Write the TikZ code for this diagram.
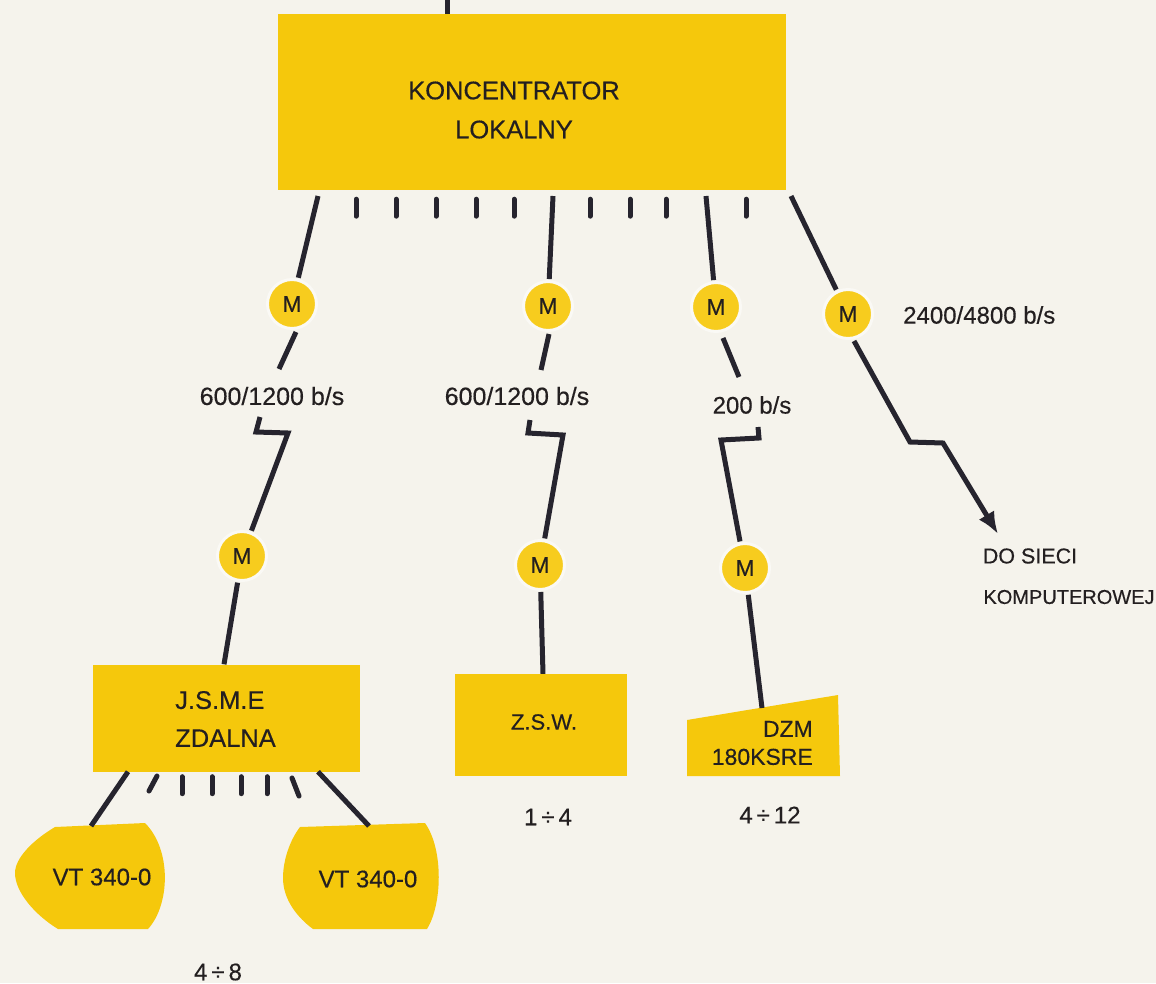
\documentclass[tikz,border=0pt]{standalone}
\usepackage{fontspec}
\setmainfont{Liberation Sans}[FakeBold=0.4,AutoFakeBold=0.4]
\newfontfamily\heavy{Liberation Sans}[FakeBold=0.4]
\usetikzlibrary{calc,arrows.meta}
\definecolor{paper}{RGB}{245,243,236}
\definecolor{gold}{RGB}{245,200,12}
\definecolor{goldm}{RGB}{247,204,30}
\definecolor{ink}{RGB}{38,36,46}
\definecolor{txt}{RGB}{35,31,32}
\begin{document}
\begin{tikzpicture}[x=1pt,y=-1pt,
  wire/.style={draw=ink,line width=5pt,line join=miter},
  stub/.style={draw=ink,line width=5pt,line cap=round},
  ybox/.style={fill=gold,inner sep=0pt},
  modem/.style={circle,fill=goldm,draw=white!50!paper,line width=3pt,
    minimum size=49pt,inner sep=0pt,text=txt,font=\heavy\fontsize{23}{23}\selectfont},
  lbl/.style={text=txt,inner sep=0pt,font=\heavy\fontsize{24}{24}\selectfont},
]
% sheet
\fill[paper] (0,0) rectangle (1156,983);
\useasboundingbox (0,0) rectangle (1156,983);

% ---- local concentrator ----
\node[ybox,minimum width=508pt,minimum height=176pt] (kon) at (532,102) {};
\node[lbl,align=center,font=\heavy\fontsize{25.5}{39}\selectfont] (kontxt) at (514,110)
  {KONCENTRATOR\\LOKALNY};
\coordinate (feed) at (447,-2);
\draw[wire] (feed) -- (feed |- kon.north);

% unused ports
\foreach \x in {356,396,436,476,514,590,630,666,746}
  \draw[stub] ($(kon.south -| \x,0)+(0,9)$) -- ++(0,17);

% ---- modems ----
\node[modem] (m1) at (292,304) {M};
\node[modem] (m2) at (548,306) {M};
\node[modem] (m3) at (716,307) {M};
\node[modem] (m4) at (848,314) {M};
\node[modem] (m5) at (242,556) {M};
\node[modem] (m6) at (540,565) {M};
\node[modem] (m7) at (745,568) {M};

% concentrator -> first-level modems
\coordinate (k1) at (318,196);
\coordinate (k2) at (553,196);
\coordinate (k3) at (706,196);
\coordinate (k4) at (791,196);
\draw[wire,shorten >=1pt] (k1) -- (m1);
\draw[wire,shorten >=1pt] (k2) -- (m2);
\draw[wire,shorten >=1pt] (k3) -- (m3);
\draw[wire,shorten >=1pt] (k4) -- (m4);

% line rates
\node[lbl,font=\heavy\fontsize{25}{25}\selectfont] (r1) at (272,396) {600/1200 b/s};
\node[lbl,font=\heavy\fontsize{25}{25}\selectfont] (r2) at (517,396) {600/1200 b/s};
\node[lbl] (r3) at (752,405) {200 b/s};
\node[lbl,anchor=west] (r4) at (903,315) {2400/4800 b/s};

% telephone lines, first branch
\coordinate (u1a) at (296,332);
\coordinate (u1b) at (279,369);
\draw[wire] (u1a) -- (u1b);
\coordinate (z1a) at (260,417);
\coordinate (z1b) at (256,432);
\coordinate (z1c) at (288,433);
\draw[wire,shorten >=1pt] (z1a) -- (z1b) -- (z1c) -- (m5);

% second branch
\coordinate (u2a) at (549,334);
\coordinate (u2b) at (541,370);
\draw[wire] (u2a) -- (u2b);
\coordinate (z2a) at (530,420);
\coordinate (z2b) at (528,433);
\coordinate (z2c) at (563,435);
\draw[wire,shorten >=1pt] (z2a) -- (z2b) -- (z2c) -- (m6);

% third branch
\coordinate (u3a) at (723,338);
\coordinate (u3b) at (739,377);
\draw[wire] (u3a) -- (u3b);
\coordinate (z3a) at (758,427);
\coordinate (z3b) at (759,438);
\coordinate (z3c) at (721,440);
\draw[wire,shorten >=1pt] (z3a) -- (z3b) -- (z3c) -- (m7);

% link to the computer network
\coordinate (s4) at (854,341);
\coordinate (w4a) at (910,442);
\coordinate (w4b) at (943,443);
\coordinate (net) at (998,534);
\draw[wire,-{Latex[length=22pt,width=18pt]}] (s4) -- (w4a) -- (w4b) -- (net);
\node[lbl,font=\heavy\fontsize{21.5}{21.5}\selectfont] (net1) at (1030,556) {DO SIECI};
\node[lbl,font=\heavy\fontsize{20}{20}\selectfont] (net2) at (1069,597) {KOMPUTEROWEJ};

% ---- remote multiplexer ----
\node[ybox,minimum width=267pt,minimum height=107pt] (jsme) at (226,718) {};
\node[lbl,align=left,anchor=west,font=\heavy\fontsize{25.5}{38}\selectfont] (jsmetxt)
  at (175,719) {J.S.M.E\\ZDALNA};
\draw[wire,shorten <=1pt] (m5) -- (jsme.north -| 224,0);

% terminals
\fill[gold] (55,827) .. controls (33,840) and (15,858) .. (15,873)
  .. controls (15,892) and (35,915) .. (58,929) -- (148,929)
  .. controls (170,905) and (172,850) .. (145,823) -- cycle;
\fill[gold] (300,827) .. controls (290,840) and (283,860) .. (283,878)
  .. controls (283,900) and (298,918) .. (313,929) -- (427,929)
  .. controls (442,905) and (444,850) .. (425,823) -- cycle;
\node[lbl] (vt1) at (102,877) {VT 340-0};
\node[lbl] (vt2) at (368,879) {VT 340-0};
\coordinate (vt1top) at (91,826);
\coordinate (vt2top) at (369,826);
\draw[wire] (jsme.south -| 128,0) -- (vt1top);
\draw[wire] (jsme.south -| 318,0) -- (vt2top);
\draw[stub] (157,776) -- (149,791);
\foreach \x in {182,212,241,267}
  \draw[stub] ($(jsme.south -| \x,0)+(0,5)$) -- ++(0,17);
\draw[stub] (292,778) -- (299,796);
\node[lbl] (n1) at (218,972) {4\,÷\,8};

% ---- Z.S.W. ----
\node[ybox,minimum width=172pt,minimum height=102pt] (zsw) at (541,725) {};
\node[lbl,font=\heavy\fontsize{22}{22}\selectfont] (zswtxt) at (544,722) {Z.S.W.};
\draw[wire,shorten <=1pt] (m6) -- (zsw.north -| 543,0);
\node[lbl] (n2) at (548,817) {1\,÷\,4};

% ---- DZM 180KSRE ----
\fill[gold] (687,720) -- (838,695) -- (840,776) -- (687,776) -- cycle;
\node[lbl,align=right,anchor=east,font=\heavy\fontsize{23}{28}\selectfont] (dzm)
  at (813,743) {DZM\\180KSRE};
\coordinate (dzmtop) at (762,708);
\draw[wire,shorten <=1pt] (m7) -- (dzmtop);
\node[lbl] (n3) at (770,815) {4\,÷\,12};
\end{tikzpicture}
\end{document}
